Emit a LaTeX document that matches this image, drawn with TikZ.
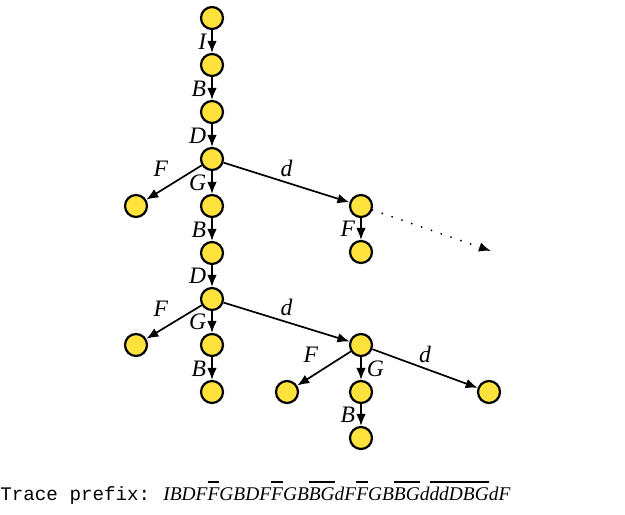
\documentclass[tikz,border=0pt]{standalone}
\usepackage{fontspec}
\setmainfont{Liberation Serif}
\setmonofont{Liberation Mono}
\usetikzlibrary{arrows.meta}
\definecolor{stateyellow}{RGB}{255,226,60}
\newcommand{\back}[1]{\leavevmode\setbox0\hbox{#1}\rlap{\rule[8.4pt]{\wd0}{0.9pt}}\box0}
\tikzset{
  state/.style={circle, draw, line width=1.1pt, fill=stateyellow, minimum size=11pt, inner sep=0pt},
  move/.style={-{Latex[length=6pt,width=4.8pt]}, line width=0.85pt},
  lbl/.style={font=\fontsize{11.8}{13}\selectfont\itshape, inner sep=2.5pt},
}
\begin{document}
\begin{tikzpicture}[x=0.5pt, y=-0.5pt]
  \useasboundingbox (0,0) rectangle (625,514);
  % main branch
  \node[state] (s0) at (212,18) {};
  \node[state] (s1) at (212,65) {};
  \node[state] (s2) at (212,112) {};
  \node[state] (s3) at (212,159) {};
  \node[state] (s4) at (136,206) {};
  \node[state] (s5) at (212,206) {};
  \node[state] (s6) at (212,253) {};
  \node[state] (s7) at (212,299) {};
  \node[state] (s8) at (136,345) {};
  \node[state] (s9) at (212,345) {};
  \node[state] (s10) at (212,392) {};
  % right branches
  \node[state] (r1) at (361,206) {};
  \node[state] (r2) at (361,252) {};
  \node[state] (r3) at (361,345) {};
  \node[state] (r4) at (287,392) {};
  \node[state] (r5) at (361,392) {};
  \node[state] (r6) at (361,438) {};
  \node[state] (r7) at (489,392) {};
  \coordinate (more) at (491,251);
  % moves
  \draw[move] (s0) -- node[lbl,left] {I} (s1);
  \draw[move] (s1) -- node[lbl,left] {B} (s2);
  \draw[move] (s2) -- node[lbl,left] {D} (s3);
  \draw[move] (s3) -- node[lbl,above left] {F} (s4);
  \draw[move] (s3) -- node[lbl,left] {G} (s5);
  \draw[move] (s3) -- node[lbl,above] {d} (r1);
  \draw[move] (r1) -- node[lbl,left] {F} (r2);
  \draw[move] (s5) -- node[lbl,left] {B} (s6);
  \draw[move] (s6) -- node[lbl,left] {D} (s7);
  \draw[move] (s7) -- node[lbl,above left] {F} (s8);
  \draw[move] (s7) -- node[lbl,left] {G} (s9);
  \draw[move] (s7) -- node[lbl,above] {d} (r3);
  \draw[move] (s9) -- node[lbl,left] {B} (s10);
  \draw[move] (r3) -- node[lbl,above left] {F} (r4);
  \draw[move] (r3) -- node[lbl,right] {G} (r5);
  \draw[move] (r3) -- node[lbl,above] {d} (r7);
  \draw[move] (r5) -- node[lbl,left] {B} (r6);
  % rest of the tree
  \draw[-{Latex[length=6pt,width=4.8pt]}, line width=1pt, line cap=round, dash pattern=on 0pt off 5.2pt] (r1) -- (more);
  % trace
  \node[anchor=base west, inner sep=0pt, font=\fontsize{9.6}{11}\selectfont\ttfamily] (tracelbl) at (0,500) {Trace prefix:};
  \node[anchor=base west, inner sep=0pt, font=\fontsize{9.7}{11}\selectfont\itshape] (trace) at (163,500)
    {IBDF\back{F}GBDF\back{F}GB\back{BG}dF\back{F}GB\back{BG}d\back{ddDBG}dF};
\end{tikzpicture}
\end{document}
